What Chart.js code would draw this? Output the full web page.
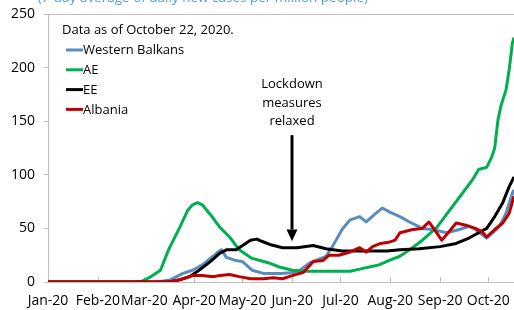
<!DOCTYPE html>
<html>
<head>
<meta charset="utf-8">
<script src="https://cdn.jsdelivr.net/npm/chart.js@4.4.1/dist/chart.umd.min.js"></script>
<style>
  html, body { margin: 0; padding: 0; background: #fff; }
  canvas { display: block; }
</style>
</head>
<body>
<canvas id="casesChart" width="514" height="310"></canvas>
<script>
/* =========================
   DATA (day of year 2020, 0 = Jan 1)
========================= */

const monthDays = [0, 31, 60, 91, 121, 152, 182, 213, 244, 274];
const monthLabels = ["Jan-20", "Feb-20", "Mar-20", "Apr-20", "May-20", "Jun-20", "Jul-20", "Aug-20", "Sep-20", "Oct-20"];
const yTicks = [0, 50, 100, 150, 200, 250];

const seriesNames = ["Western Balkans", "AE", "EE", "Albania"];

const wbDays = [0, 68, 76, 84, 90, 96, 101, 105, 108, 111, 117, 121, 127, 134, 145, 155, 163, 173, 177, 183, 188, 194, 198, 204, 208, 213, 219, 225, 233, 239, 248, 256, 262, 266, 273, 277, 281, 285, 289, 290];
const wbValues = [0, 0, 2, 8, 11, 16, 22, 27, 30, 23, 20, 19, 11, 8, 8, 9, 18, 24, 33, 49, 58, 61, 56, 64, 69, 65, 61, 56, 50, 49, 46, 49, 52, 49, 41, 46, 52, 64, 83, 86];

const aeDays = [0, 55, 59, 63, 66, 70, 75, 82, 87, 90, 93, 96, 101, 107, 113, 119, 127, 132, 137, 144, 152, 161, 188, 194, 200, 206, 212, 219, 225, 233, 242, 250, 258, 264, 268, 273, 276, 278, 280, 282, 285, 287, 289, 290];
const aeValues = [0, 0, 1, 4, 7, 11, 30, 51, 67, 72, 74, 72, 63, 51, 42, 30, 22, 20, 18, 14, 11, 10, 10, 12, 14, 16, 20, 24, 30, 39, 51, 67, 83, 95, 105, 107, 116, 125, 151, 165, 179, 198, 223, 228];

const eeDays = [0, 75, 82, 88, 94, 101, 107, 111, 117, 119, 126, 130, 133, 138, 146, 155, 165, 173, 183, 194, 211, 219, 231, 244, 254, 262, 268, 273, 278, 283, 287, 290];
const eeValues = [0, 0, 2, 5, 11, 19, 27, 30, 30, 32, 39, 40, 38, 35, 32, 32, 34, 31, 29, 29, 29, 30, 31, 33, 36, 41, 46, 50, 61, 74, 89, 98];

const alDays = [0, 76, 84, 90, 96, 103, 107, 113, 119, 126, 134, 140, 146, 152, 159, 165, 171, 175, 181, 188, 194, 198, 202, 207, 212, 216, 219, 227, 233, 237, 240, 245, 248, 254, 260, 266, 270, 273, 278, 283, 287, 290];
const alValues = [0, 0, 3, 6, 6, 5, 6, 7, 5, 3, 3, 4, 3, 6, 9, 19, 20, 25, 25, 28, 32, 28, 33, 36, 37, 39, 46, 49, 50, 56, 50, 39, 44, 55, 53, 50, 47, 42, 49, 55, 64, 80];

const colors = ["#5b8cbf", "#00b050", "#000000", "#c00000"];

function toPoints(days, values) {
  return days.map((d, i) => ({ x: d, y: values[i] }));
}

const AXIS_GRAY = "#bfbfbf";

/* =========================
   DECORATIONS
========================= */

const decorations = {
  id: "decorations",
  beforeDatasetsDraw(chart) {
    const { ctx, chartArea, scales } = chart;
    ctx.save();
    ctx.strokeStyle = AXIS_GRAY;
    ctx.lineWidth = 1;
    // top frame line
    ctx.beginPath();
    ctx.moveTo(chartArea.left, chartArea.top + 0.5);
    ctx.lineTo(chartArea.right, chartArea.top + 0.5);
    ctx.stroke();
    // inward x ticks
    monthDays.forEach(d => {
      const x = Math.round(scales.x.getPixelForValue(d)) + 0.5;
      ctx.beginPath();
      ctx.moveTo(x, chartArea.bottom - 5);
      ctx.lineTo(x, chartArea.bottom);
      ctx.stroke();
    });
    ctx.restore();
  },
  afterDraw(chart) {
    const { ctx, scales } = chart;
    ctx.save();

    // cut-off subtitle at the very top
    ctx.fillStyle = "#5b9bd5";
    ctx.font = "13.5px 'Open Sans'";
    ctx.textAlign = "right";
    ctx.textBaseline = "alphabetic";
    ctx.fillText("(7-day average of daily new cases per million people)", 368, 2);

    // legend box
    ctx.fillStyle = "#000";
    ctx.font = "13px 'Open Sans'";
    ctx.textAlign = "left";
    ctx.textBaseline = "middle";
    ctx.fillText("Data as of October 22, 2020.", 62, 30);
    chart.data.datasets.forEach((ds, i) => {
      const y = 50 + i * 19.8;
      ctx.strokeStyle = ds.borderColor;
      ctx.lineWidth = 3;
      ctx.beginPath();
      ctx.moveTo(66, y);
      ctx.lineTo(83, y);
      ctx.stroke();
      ctx.fillStyle = "#000";
      ctx.fillText(ds.label, 83, y + 0.5);
    });

    // lockdown annotation
    const ax = Math.round(scales.x.getPixelForValue(monthDays[5]));
    ctx.textAlign = "center";
    ctx.fillText("Lockdown", ax, scales.y.getPixelForValue(184));
    ctx.fillText("measures", ax, scales.y.getPixelForValue(167));
    ctx.fillText("relaxed", ax, scales.y.getPixelForValue(150));

    const top = scales.y.getPixelForValue(137);
    const base = scales.y.getPixelForValue(49);
    const tip = scales.y.getPixelForValue(38);
    ctx.strokeStyle = "#000";
    ctx.lineWidth = 3;
    ctx.beginPath();
    ctx.moveTo(ax, top);
    ctx.lineTo(ax, base);
    ctx.stroke();
    ctx.fillStyle = "#000";
    ctx.beginPath();
    ctx.moveTo(ax - 5.5, base);
    ctx.lineTo(ax + 5.5, base);
    ctx.lineTo(ax, tip);
    ctx.closePath();
    ctx.fill();

    ctx.restore();
  }
};

/* =========================
   CHART
========================= */

Chart.defaults.font.family = "'Open Sans', sans-serif";
Chart.defaults.font.size = 14;
Chart.defaults.color = "#000";

const allDays = [wbDays, aeDays, eeDays, alDays];
const allValues = [wbValues, aeValues, eeValues, alValues];

new Chart(document.getElementById("casesChart"), {
  type: "line",
  data: {
    datasets: seriesNames.map((name, i) => ({
      label: name,
      data: toPoints(allDays[i], allValues[i]),
      borderColor: colors[i],
      backgroundColor: colors[i],
      borderWidth: 3,
      borderJoinStyle: "round",
      pointRadius: 0,
      tension: 0,
      fill: false,
      order: seriesNames.length - 1 - i // Albania drawn on top
    }))
  },
  options: {
    responsive: false,
    animation: false,
    devicePixelRatio: 1,
    layout: { padding: { top: 14, right: 0, left: 0, bottom: 0 } },
    plugins: {
      legend: { display: false },
      tooltip: { enabled: false }
    },
    scales: {
      x: {
        type: "linear",
        min: 0,
        max: 290,
        afterBuildTicks: s => { s.ticks = monthDays.map(v => ({ value: v })); },
        afterFit: s => {
          s.height = 28;
          s.paddingLeft = 0;
          s.paddingRight = 0;
        },
        ticks: {
          autoSkip: false,
          maxRotation: 0,
          padding: 11,
          callback: v => monthLabels[monthDays.indexOf(v)]
        },
        grid: { display: false, drawTicks: false },
        border: { color: AXIS_GRAY, width: 1 }
      },
      y: {
        min: 0,
        max: 250,
        afterBuildTicks: s => { s.ticks = yTicks.map(v => ({ value: v })); },
        afterFit: s => {
          s.width = 48;
          s.paddingTop = 0;
          s.paddingBottom = 0;
        },
        ticks: { padding: 9 },
        grid: {
          drawOnChartArea: false,
          drawTicks: true,
          tickLength: 4,
          color: AXIS_GRAY
        },
        border: { color: AXIS_GRAY, width: 1 }
      }
    }
  },
  plugins: [decorations]
});
</script>
</body>
</html>
